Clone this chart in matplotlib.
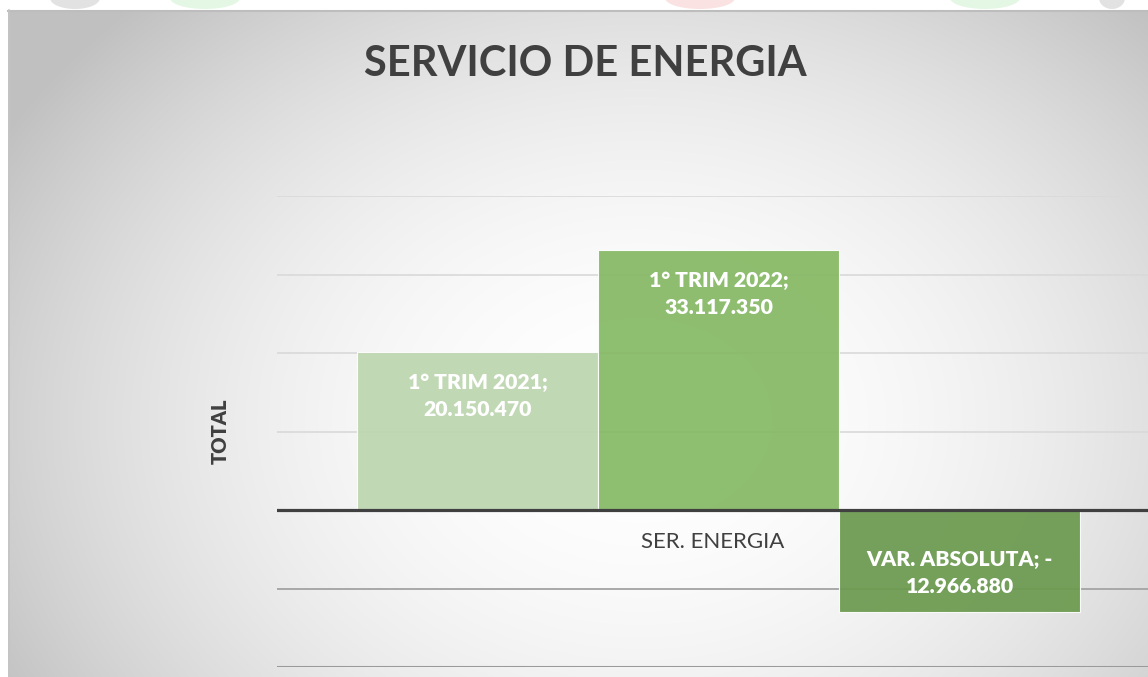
import numpy as np
import matplotlib
matplotlib.use("Agg")
import matplotlib.pyplot as plt
from matplotlib.patches import Ellipse

# ---- data ----
category = ["SER. ENERGIA"]
series_names = ["1° TRIM 2021", "1° TRIM 2022", "VAR. ABSOLUTA"]
series_values = [20150470, 33117350, -12966880]
series_labels = ["1° TRIM 2021;\n20.150.470", "1° TRIM 2022;\n33.117.350", "VAR. ABSOLUTA; -\n12.966.880"]
title = "SERVICIO DE ENERGIA"
y_label = "TOTAL"
y_ticks = [-20e6, -10e6, 0, 10e6, 20e6, 30e6, 40e6]

colors = ["#BDD6B0", "#86B964", "#6B9A4F"]
FONT = "Lato"

W, H = 1148, 677
fig = plt.figure(figsize=(W / 100, H / 100), dpi=100)

# ---- background: white strip + radial gradient chart area ----
bg = fig.add_axes([0, 0, 1, 1], zorder=-10)
bg.set_xlim(0, W)
bg.set_ylim(H, 0)
bg.axis("off")
yy, xx = np.mgrid[0:H, 0:W]
cx, cy, rx, ry = 640, 420, 720, 560
d2 = ((xx - cx) / rx) ** 2 + ((yy - cy) / ry) ** 2
val = 255 - 60 * np.clip(d2, 0, 1.05)
img = np.dstack([val, val, val]) / 255.0
img[:10, :, :] = 1.0
img[:, :8, :] = 1.0
bg.imshow(img, extent=(0, W, H, 0), aspect="auto", interpolation="bilinear")
# faint watermark fragments peeking above the chart frame
for (ex, ew, col) in [(75, 50, "#a0a0a0"), (205, 70, "#a8e6a8"), (700, 70, "#f2a0a0"),
                      (985, 70, "#a8e6a8"), (1112, 26, "#a0a0a0")]:
    bg.add_patch(Ellipse((ex, -2), ew, 22, color=col, alpha=0.3, lw=0))
bg.plot([8, W], [10.5, 10.5], color="#bdbdbd", lw=1.5)
bg.plot([8.5, 8.5], [10, H], color="#c4c4c4", lw=1.2)

# ---- chart axes ----
left, right = 277 / W, 1160 / W
bottom, top = (H - 667) / H, (H - 196) / H
ax = fig.add_axes([left, bottom, right - left, top - bottom])
ax.set_facecolor("none")
ax.set_xlim(-0.5, 0.5)
ax.set_ylim(y_ticks[0], y_ticks[-1])

for t in y_ticks:
    if t > 0:
        ax.axhline(t, color="#d9d9d9", lw=1.2, zorder=1)
    elif t < 0:
        c = "#9a9a9a" if t == y_ticks[0] else "#a8a8a8"
        w = 2.2 if t == y_ticks[0] else 1.4
        ax.axhline(t, color=c, lw=w, zorder=1)

bw = 241 / 883
n = len(series_values)
for i, (v, col, lab) in enumerate(zip(series_values, colors, series_labels)):
    x = (i - (n - 1) / 2) * bw
    ax.bar(x, v, width=bw, color=col, alpha=0.93, edgecolor=(1, 1, 1, 0.5), lw=0.8, zorder=2)
    off = -32 if v > 0 else 28
    ax.annotate(lab, xy=(x, v), xytext=(0, off), textcoords="offset points",
                ha="center", va="center", color="white", fontsize=15.3,
                fontweight="heavy", family=FONT, linespacing=1.5, zorder=4)

ax.axhline(0, color="#404040", lw=2.3, zorder=3)

ax.annotate(category[0], xy=(0, 0), xytext=(-4, -23), textcoords="offset points",
            ha="center", va="center", color="#404040", fontsize=16, family=FONT)

for s in ax.spines.values():
    s.set_visible(False)
ax.set_xticks([])
ax.set_yticks([])
ax.set_ylabel(y_label, family=FONT, fontweight="heavy", fontsize=14.5, color="#404040")
ax.yaxis.set_label_coords((230 - 277) / 883, 0.5)

fig.text(585 / W, 1 - 64 / H, title, ha="center", va="center", family=FONT,
         fontweight="bold", fontsize=30, color="#404040")

fig.savefig("out.png", dpi=100)
